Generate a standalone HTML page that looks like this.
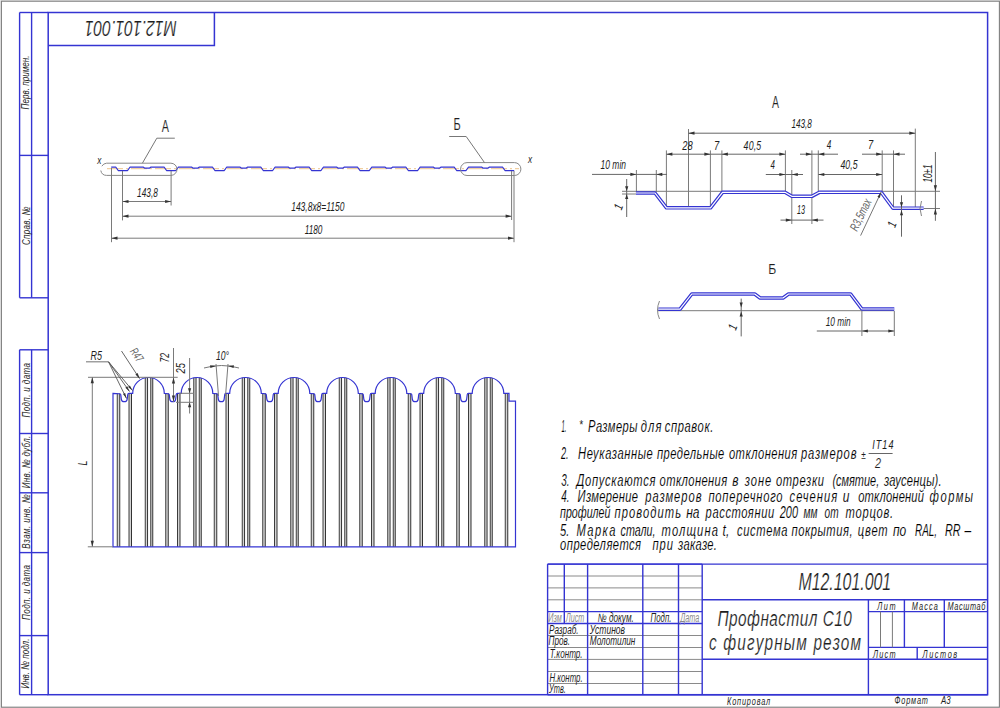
<!DOCTYPE html>
<html><head><meta charset="utf-8"><style>
html,body{margin:0;padding:0;background:#fff;width:1000px;height:708px;overflow:hidden}
svg{display:block}
text{font-family:"Liberation Sans",sans-serif}
</style></head><body>
<svg width="1000" height="708" viewBox="0 0 1000 708">
<rect x="0" y="0" width="1000" height="708" fill="#ececec"/>
<rect x="1.4" y="1.2" width="998.0" height="706.0" fill="#ffffff" stroke="#7e7e7e" stroke-width="1.1"/>
<rect x="48.2" y="12.5" width="939.4" height="682.2" fill="none" stroke="#3434d2" stroke-width="1.5"/>
<polyline points="48.2,45.5 214.4,45.5 214.4,12.5" fill="none" stroke="#3434d2" stroke-width="1.5"/>
<text x="130.70" y="20.50" font-size="22.5" font-style="italic" text-anchor="middle" fill="#1e1e1e" textLength="92.00" lengthAdjust="spacingAndGlyphs" transform="rotate(180 130.70 20.50)" stroke="#fff" stroke-width="0.2" >M12.101.001</text>
<line x1="19.60" y1="12.50" x2="19.60" y2="297.80" stroke="#3434d2" stroke-width="1.4" />
<line x1="31.60" y1="12.50" x2="31.60" y2="297.80" stroke="#3434d2" stroke-width="1.4" />
<line x1="19.60" y1="12.50" x2="48.20" y2="12.50" stroke="#3434d2" stroke-width="1.4" />
<line x1="19.60" y1="155.40" x2="48.20" y2="155.40" stroke="#3434d2" stroke-width="1.4" />
<line x1="19.60" y1="297.80" x2="48.20" y2="297.80" stroke="#3434d2" stroke-width="1.4" />
<line x1="19.60" y1="349.80" x2="19.60" y2="694.70" stroke="#3434d2" stroke-width="1.4" />
<line x1="31.60" y1="349.80" x2="31.60" y2="694.70" stroke="#3434d2" stroke-width="1.4" />
<line x1="19.60" y1="349.80" x2="48.20" y2="349.80" stroke="#3434d2" stroke-width="1.4" />
<line x1="19.60" y1="433.50" x2="48.20" y2="433.50" stroke="#3434d2" stroke-width="1.4" />
<line x1="19.60" y1="492.80" x2="48.20" y2="492.80" stroke="#3434d2" stroke-width="1.4" />
<line x1="19.60" y1="552.60" x2="48.20" y2="552.60" stroke="#3434d2" stroke-width="1.4" />
<line x1="19.60" y1="635.60" x2="48.20" y2="635.60" stroke="#3434d2" stroke-width="1.4" />
<line x1="19.60" y1="694.70" x2="48.20" y2="694.70" stroke="#3434d2" stroke-width="1.4" />
<text x="29.50" y="82.40" font-size="11.5" font-style="italic" text-anchor="middle" fill="#1e1e1e" textLength="54.00" lengthAdjust="spacingAndGlyphs" transform="rotate(-90 29.50 82.40)" >Перв. примен.</text>
<text x="0" y="0" font-size="11.5" font-style="italic" text-anchor="middle" fill="#1e1e1e" textLength="55.00" lengthAdjust="spacing" transform="translate(29.50 225.80) rotate(-90) scale(0.7 1)" >Справ. №</text>
<text x="0" y="0" font-size="11.5" font-style="italic" text-anchor="middle" fill="#1e1e1e" textLength="77.86" lengthAdjust="spacing" transform="translate(29.50 390.30) rotate(-90) scale(0.7 1)" >Подп. и дата</text>
<text x="0" y="0" font-size="11.5" font-style="italic" text-anchor="middle" fill="#1e1e1e" textLength="75.00" lengthAdjust="spacing" transform="translate(29.50 462.00) rotate(-90) scale(0.7 1)" >Инв. № дубл.</text>
<text x="0" y="0" font-size="11.5" font-style="italic" text-anchor="middle" fill="#1e1e1e" textLength="77.71" lengthAdjust="spacing" transform="translate(29.50 521.50) rotate(-90) scale(0.7 1)" >Взам. инв. №</text>
<text x="0" y="0" font-size="11.5" font-style="italic" text-anchor="middle" fill="#1e1e1e" textLength="78.57" lengthAdjust="spacing" transform="translate(29.50 592.50) rotate(-90) scale(0.7 1)" >Подп. и дата</text>
<text x="29.50" y="663.60" font-size="11.5" font-style="italic" text-anchor="middle" fill="#1e1e1e" textLength="50.00" lengthAdjust="spacingAndGlyphs" transform="rotate(-90 29.50 663.60)" >Инв. № подл.</text>
<line x1="547.60" y1="564.10" x2="702.20" y2="564.10" stroke="#3434d2" stroke-width="1.4" />
<line x1="547.60" y1="576.00" x2="702.20" y2="576.00" stroke="#8a8a8a" stroke-width="1" />
<line x1="547.60" y1="587.90" x2="702.20" y2="587.90" stroke="#8a8a8a" stroke-width="1" />
<line x1="547.60" y1="599.80" x2="702.20" y2="599.80" stroke="#8a8a8a" stroke-width="1" />
<line x1="547.60" y1="611.60" x2="702.20" y2="611.60" stroke="#3434d2" stroke-width="1.4" />
<line x1="547.60" y1="623.50" x2="702.20" y2="623.50" stroke="#3434d2" stroke-width="1.4" />
<line x1="547.60" y1="635.50" x2="702.20" y2="635.50" stroke="#8a8a8a" stroke-width="1" />
<line x1="547.60" y1="647.50" x2="702.20" y2="647.50" stroke="#8a8a8a" stroke-width="1" />
<line x1="547.60" y1="659.40" x2="702.20" y2="659.40" stroke="#8a8a8a" stroke-width="1" />
<line x1="547.60" y1="671.50" x2="702.20" y2="671.50" stroke="#8a8a8a" stroke-width="1" />
<line x1="547.60" y1="683.50" x2="702.20" y2="683.50" stroke="#8a8a8a" stroke-width="1" />
<line x1="547.60" y1="694.70" x2="987.60" y2="694.70" stroke="#3434d2" stroke-width="1.5" />
<line x1="547.60" y1="564.10" x2="987.60" y2="564.10" stroke="#3434d2" stroke-width="1.4" />
<line x1="547.60" y1="564.10" x2="547.60" y2="694.70" stroke="#3434d2" stroke-width="1.4" />
<line x1="587.60" y1="564.10" x2="587.60" y2="694.70" stroke="#3434d2" stroke-width="1.4" />
<line x1="642.80" y1="564.10" x2="642.80" y2="694.70" stroke="#3434d2" stroke-width="1.4" />
<line x1="678.50" y1="564.10" x2="678.50" y2="694.70" stroke="#3434d2" stroke-width="1.4" />
<line x1="702.20" y1="564.10" x2="702.20" y2="694.70" stroke="#3434d2" stroke-width="1.4" />
<line x1="564.30" y1="564.10" x2="564.30" y2="623.50" stroke="#3434d2" stroke-width="1.4" />
<line x1="702.20" y1="599.80" x2="987.60" y2="599.80" stroke="#3434d2" stroke-width="1.4" />
<line x1="702.20" y1="659.30" x2="987.60" y2="659.30" stroke="#3434d2" stroke-width="1.4" />
<line x1="868.40" y1="599.80" x2="868.40" y2="694.70" stroke="#3434d2" stroke-width="1.4" />
<line x1="868.40" y1="611.60" x2="987.60" y2="611.60" stroke="#3434d2" stroke-width="1.4" />
<line x1="868.40" y1="647.40" x2="987.60" y2="647.40" stroke="#3434d2" stroke-width="1.4" />
<line x1="880.50" y1="611.60" x2="880.50" y2="647.40" stroke="#7a7a7a" stroke-width="1" />
<line x1="892.40" y1="611.60" x2="892.40" y2="647.40" stroke="#7a7a7a" stroke-width="1" />
<line x1="904.40" y1="599.80" x2="904.40" y2="647.40" stroke="#3434d2" stroke-width="1.4" />
<line x1="944.30" y1="599.80" x2="944.30" y2="647.40" stroke="#3434d2" stroke-width="1.4" />
<line x1="917.20" y1="647.40" x2="917.20" y2="659.30" stroke="#3434d2" stroke-width="1.4" />
<text x="548.20" y="621.60" font-size="12" font-style="italic" text-anchor="start" fill="#8a8a8a" textLength="13.60" lengthAdjust="spacingAndGlyphs" >Изм</text>
<text x="565.80" y="621.60" font-size="12" font-style="italic" text-anchor="start" fill="#8a8a8a" textLength="18.40" lengthAdjust="spacingAndGlyphs" >Лист</text>
<text x="597.80" y="621.60" font-size="12" font-style="italic" text-anchor="start" fill="#1e1e1e" textLength="36.00" lengthAdjust="spacingAndGlyphs" >№ докум.</text>
<text x="650.60" y="621.60" font-size="12" font-style="italic" text-anchor="start" fill="#1e1e1e" textLength="20.80" lengthAdjust="spacingAndGlyphs" >Подп.</text>
<text x="680.20" y="621.60" font-size="12" font-style="italic" text-anchor="start" fill="#8a8a8a" textLength="19.20" lengthAdjust="spacingAndGlyphs" >Дата</text>
<text x="549.00" y="633.60" font-size="12" font-style="italic" text-anchor="start" fill="#1e1e1e" textLength="29.60" lengthAdjust="spacingAndGlyphs" >Разраб.</text>
<text x="589.80" y="633.60" font-size="12" font-style="italic" text-anchor="start" fill="#1e1e1e" textLength="35.20" lengthAdjust="spacingAndGlyphs" >Устинов</text>
<text x="548.50" y="645.00" font-size="12" font-style="italic" text-anchor="start" fill="#1e1e1e" textLength="21.50" lengthAdjust="spacingAndGlyphs" >Пров.</text>
<text x="589.80" y="645.00" font-size="12" font-style="italic" text-anchor="start" fill="#1e1e1e" textLength="45.60" lengthAdjust="spacingAndGlyphs" >Молотилин</text>
<text x="549.80" y="658.40" font-size="12" font-style="italic" text-anchor="start" fill="#1e1e1e" textLength="32.80" lengthAdjust="spacingAndGlyphs" >Т.контр.</text>
<text x="549.50" y="681.60" font-size="12" font-style="italic" text-anchor="start" fill="#1e1e1e" textLength="33.10" lengthAdjust="spacingAndGlyphs" >Н.контр.</text>
<text x="549.00" y="693.00" font-size="12" font-style="italic" text-anchor="start" fill="#1e1e1e" textLength="16.80" lengthAdjust="spacingAndGlyphs" >Утв.</text>
<text x="0" y="0" font-size="10.5" font-style="italic" text-anchor="start" fill="#1e1e1e" textLength="26.14" lengthAdjust="spacing" transform="translate(877.30 609.80) scale(0.7 1)" >Лит</text>
<text x="0" y="0" font-size="10.5" font-style="italic" text-anchor="start" fill="#1e1e1e" textLength="37.14" lengthAdjust="spacing" transform="translate(911.80 609.80) scale(0.7 1)" >Масса</text>
<text x="0" y="0" font-size="10.5" font-style="italic" text-anchor="start" fill="#1e1e1e" textLength="54.00" lengthAdjust="spacing" transform="translate(947.50 609.80) scale(0.7 1)" >Масштаб</text>
<text x="0" y="0" font-size="10.5" font-style="italic" text-anchor="start" fill="#1e1e1e" textLength="32.29" lengthAdjust="spacing" transform="translate(873.00 657.60) scale(0.7 1)" >Лист</text>
<text x="0" y="0" font-size="10.5" font-style="italic" text-anchor="start" fill="#1e1e1e" textLength="49.43" lengthAdjust="spacing" transform="translate(922.60 657.60) scale(0.7 1)" >Листов</text>
<text x="798.40" y="590.40" font-size="23" font-style="italic" text-anchor="start" fill="#1e1e1e" textLength="92.80" lengthAdjust="spacingAndGlyphs" stroke="#fff" stroke-width="0.2" >M12.101.001</text>
<text x="0" y="0" font-size="22" font-style="italic" text-anchor="start" fill="#1e1e1e" textLength="192.14" lengthAdjust="spacing" transform="translate(717.40 626.10) scale(0.7 1)" stroke="#fff" stroke-width="0.2" >Профнастил С10</text>
<text x="0" y="0" font-size="22" font-style="italic" text-anchor="start" fill="#1e1e1e" textLength="217.00" lengthAdjust="spacing" transform="translate(709.10 649.50) scale(0.7 1)" stroke="#fff" stroke-width="0.2" >с фигурным резом</text>
<text x="0" y="0" font-size="10.5" font-style="italic" text-anchor="start" fill="#1e1e1e" textLength="61.71" lengthAdjust="spacing" transform="translate(727.00 704.60) scale(0.7 1)" >Копировал</text>
<text x="0" y="0" font-size="10.5" font-style="italic" text-anchor="start" fill="#1e1e1e" textLength="47.86" lengthAdjust="spacing" transform="translate(894.50 704.40) scale(0.7 1)" >Формат</text>
<text x="0" y="0" font-size="10.5" font-style="italic" text-anchor="start" fill="#1e1e1e" transform="translate(941.00 704.40) scale(0.750 1)" >А3</text>
<text x="0" y="0" font-size="16" font-style="italic" text-anchor="start" fill="#000" transform="translate(561.60 432.30) scale(0.367 1)" stroke="#fff" stroke-width="0.12" >1.</text>
<text x="0" y="0" font-size="16" font-style="italic" text-anchor="start" fill="#000" textLength="70.71" lengthAdjust="spacing" transform="translate(588.00 432.30) scale(0.7 1)" stroke="#fff" stroke-width="0.12" >Размеры</text>
<text x="0" y="0" font-size="16" font-style="italic" text-anchor="start" fill="#000" textLength="29.43" lengthAdjust="spacing" transform="translate(640.80 432.30) scale(0.7 1)" stroke="#fff" stroke-width="0.12" >для</text>
<text x="0" y="0" font-size="16" font-style="italic" text-anchor="start" fill="#000" textLength="69.57" lengthAdjust="spacing" transform="translate(664.70 432.30) scale(0.7 1)" stroke="#fff" stroke-width="0.12" >справок.</text>
<text x="0" y="0" font-size="13" font-style="italic" text-anchor="start" fill="#1e1e1e" transform="translate(578.90 429.00) scale(0.750 1)" >*</text>
<text x="0" y="0" font-size="16" font-style="italic" text-anchor="start" fill="#000" transform="translate(561.00 458.80) scale(0.570 1)" stroke="#fff" stroke-width="0.12" >2.</text>
<text x="0" y="0" font-size="16" font-style="italic" text-anchor="start" fill="#000" textLength="106.86" lengthAdjust="spacing" transform="translate(578.00 458.80) scale(0.7 1)" stroke="#fff" stroke-width="0.12" >Неуказанные</text>
<text x="0" y="0" font-size="16" font-style="italic" text-anchor="start" fill="#000" textLength="96.14" lengthAdjust="spacing" transform="translate(657.00 458.80) scale(0.7 1)" stroke="#fff" stroke-width="0.12" >предельные</text>
<text x="0" y="0" font-size="16" font-style="italic" text-anchor="start" fill="#000" textLength="97.71" lengthAdjust="spacing" transform="translate(728.90 458.80) scale(0.7 1)" stroke="#fff" stroke-width="0.12" >отклонения</text>
<text x="0" y="0" font-size="16" font-style="italic" text-anchor="start" fill="#000" textLength="79.29" lengthAdjust="spacing" transform="translate(801.00 458.80) scale(0.7 1)" stroke="#fff" stroke-width="0.12" >размеров</text>
<text x="0" y="0" font-size="11" font-style="italic" text-anchor="start" fill="#1e1e1e" transform="translate(861.20 458.80) scale(0.750 1)" >±</text>
<text x="0" y="0" font-size="13" font-style="italic" text-anchor="start" fill="#1e1e1e" textLength="30.29" lengthAdjust="spacing" transform="translate(872.30 448.90) scale(0.7 1)" >IT14</text>
<line x1="868.60" y1="453.50" x2="892.60" y2="453.50" stroke="#666" stroke-width="1" />
<text x="0" y="0" font-size="14.5" font-style="italic" text-anchor="start" fill="#1e1e1e" transform="translate(875.00 468.30) scale(0.750 1)" stroke="#fff" stroke-width="0.12" >2</text>
<text x="0" y="0" font-size="16" font-style="italic" text-anchor="start" fill="#000" transform="translate(561.20 485.50) scale(0.615 1)" stroke="#fff" stroke-width="0.12" >3.</text>
<text x="0" y="0" font-size="16" font-style="italic" text-anchor="start" fill="#000" textLength="112.86" lengthAdjust="spacing" transform="translate(576.50 485.50) scale(0.7 1)" stroke="#fff" stroke-width="0.12" >Допускаются</text>
<text x="0" y="0" font-size="16" font-style="italic" text-anchor="start" fill="#000" textLength="96.57" lengthAdjust="spacing" transform="translate(659.60 485.50) scale(0.7 1)" stroke="#fff" stroke-width="0.12" >отклонения</text>
<text x="0" y="0" font-size="16" font-style="italic" text-anchor="start" fill="#000" transform="translate(732.30 485.50) scale(0.750 1)" stroke="#fff" stroke-width="0.12" >в</text>
<text x="0" y="0" font-size="16" font-style="italic" text-anchor="start" fill="#000" textLength="37.71" lengthAdjust="spacing" transform="translate(744.80 485.50) scale(0.7 1)" stroke="#fff" stroke-width="0.12" >зоне</text>
<text x="0" y="0" font-size="16" font-style="italic" text-anchor="start" fill="#000" textLength="68.57" lengthAdjust="spacing" transform="translate(776.00 485.50) scale(0.7 1)" stroke="#fff" stroke-width="0.12" >отрезки</text>
<text x="832.40" y="485.50" font-size="16" font-style="italic" text-anchor="start" fill="#000" textLength="46.80" lengthAdjust="spacingAndGlyphs" stroke="#fff" stroke-width="0.12" >(смятие,</text>
<text x="0" y="0" font-size="16" font-style="italic" text-anchor="start" fill="#000" textLength="82.29" lengthAdjust="spacing" transform="translate(884.00 485.50) scale(0.7 1)" stroke="#fff" stroke-width="0.12" >заусенцы).</text>
<text x="0" y="0" font-size="16" font-style="italic" text-anchor="start" fill="#000" transform="translate(561.20 501.90) scale(0.615 1)" stroke="#fff" stroke-width="0.12" >4.</text>
<text x="0" y="0" font-size="16" font-style="italic" text-anchor="start" fill="#000" textLength="86.29" lengthAdjust="spacing" transform="translate(577.60 501.90) scale(0.7 1)" stroke="#fff" stroke-width="0.12" >Измерение</text>
<text x="0" y="0" font-size="16" font-style="italic" text-anchor="start" fill="#000" textLength="80.57" lengthAdjust="spacing" transform="translate(645.20 501.90) scale(0.7 1)" stroke="#fff" stroke-width="0.12" >размеров</text>
<text x="0" y="0" font-size="16" font-style="italic" text-anchor="start" fill="#000" textLength="106.00" lengthAdjust="spacing" transform="translate(708.40 501.90) scale(0.7 1)" stroke="#fff" stroke-width="0.12" >поперечного</text>
<text x="0" y="0" font-size="16" font-style="italic" text-anchor="start" fill="#000" textLength="68.00" lengthAdjust="spacing" transform="translate(789.60 501.90) scale(0.7 1)" stroke="#fff" stroke-width="0.12" >сечения</text>
<text x="0" y="0" font-size="16" font-style="italic" text-anchor="start" fill="#000" transform="translate(842.80 501.90) scale(0.750 1)" stroke="#fff" stroke-width="0.12" >и</text>
<text x="0" y="0" font-size="16" font-style="italic" text-anchor="start" fill="#000" textLength="94.00" lengthAdjust="spacing" transform="translate(858.20 501.90) scale(0.7 1)" stroke="#fff" stroke-width="0.12" >отклонений</text>
<text x="0" y="0" font-size="16" font-style="italic" text-anchor="start" fill="#000" textLength="62.00" lengthAdjust="spacing" transform="translate(929.60 501.90) scale(0.7 1)" stroke="#fff" stroke-width="0.12" >формы</text>
<text x="560.10" y="518.30" font-size="16" font-style="italic" text-anchor="start" fill="#000" textLength="50.30" lengthAdjust="spacingAndGlyphs" stroke="#fff" stroke-width="0.12" >профилей</text>
<text x="0" y="0" font-size="16" font-style="italic" text-anchor="start" fill="#000" textLength="95.14" lengthAdjust="spacing" transform="translate(614.50 518.30) scale(0.7 1)" stroke="#fff" stroke-width="0.12" >проводить</text>
<text x="0" y="0" font-size="16" font-style="italic" text-anchor="start" fill="#000" transform="translate(686.20 518.30) scale(0.750 1)" stroke="#fff" stroke-width="0.12" >на</text>
<text x="0" y="0" font-size="16" font-style="italic" text-anchor="start" fill="#000" textLength="98.00" lengthAdjust="spacing" transform="translate(705.60 518.30) scale(0.7 1)" stroke="#fff" stroke-width="0.12" >расстоянии</text>
<text x="779.80" y="518.30" font-size="16" font-style="italic" text-anchor="start" fill="#000" textLength="18.20" lengthAdjust="spacingAndGlyphs" stroke="#fff" stroke-width="0.12" >200</text>
<text x="0" y="0" font-size="16" font-style="italic" text-anchor="start" fill="#000" transform="translate(803.60 518.30) scale(0.638 1)" stroke="#fff" stroke-width="0.12" >мм</text>
<text x="0" y="0" font-size="16" font-style="italic" text-anchor="start" fill="#000" transform="translate(824.60 518.30) scale(0.630 1)" stroke="#fff" stroke-width="0.12" >от</text>
<text x="0" y="0" font-size="16" font-style="italic" text-anchor="start" fill="#000" textLength="68.00" lengthAdjust="spacing" transform="translate(845.60 518.30) scale(0.7 1)" stroke="#fff" stroke-width="0.12" >торцов.</text>
<text x="0" y="0" font-size="16" font-style="italic" text-anchor="start" fill="#000" transform="translate(560.10 535.80) scale(0.697 1)" stroke="#fff" stroke-width="0.12" >5.</text>
<text x="0" y="0" font-size="16" font-style="italic" text-anchor="start" fill="#000" textLength="55.71" lengthAdjust="spacing" transform="translate(576.50 535.80) scale(0.7 1)" stroke="#fff" stroke-width="0.12" >Марка</text>
<text x="620.60" y="535.80" font-size="16" font-style="italic" text-anchor="start" fill="#000" textLength="34.90" lengthAdjust="spacingAndGlyphs" stroke="#fff" stroke-width="0.12" >стали,</text>
<text x="0" y="0" font-size="16" font-style="italic" text-anchor="start" fill="#000" textLength="80.57" lengthAdjust="spacing" transform="translate(661.60 535.80) scale(0.7 1)" stroke="#fff" stroke-width="0.12" >толщина</text>
<text x="0" y="0" font-size="16" font-style="italic" text-anchor="start" fill="#000" transform="translate(722.60 535.80) scale(0.750 1)" stroke="#fff" stroke-width="0.12" >t,</text>
<text x="0" y="0" font-size="16" font-style="italic" text-anchor="start" fill="#000" textLength="72.43" lengthAdjust="spacing" transform="translate(736.90 535.80) scale(0.7 1)" stroke="#fff" stroke-width="0.12" >система</text>
<text x="0" y="0" font-size="16" font-style="italic" text-anchor="start" fill="#000" textLength="87.29" lengthAdjust="spacing" transform="translate(791.50 535.80) scale(0.7 1)" stroke="#fff" stroke-width="0.12" >покрытия,</text>
<text x="0" y="0" font-size="16" font-style="italic" text-anchor="start" fill="#000" textLength="42.71" lengthAdjust="spacing" transform="translate(857.80 535.80) scale(0.7 1)" stroke="#fff" stroke-width="0.12" >цвет</text>
<text x="0" y="0" font-size="16" font-style="italic" text-anchor="start" fill="#000" transform="translate(892.90 535.80) scale(0.750 1)" stroke="#fff" stroke-width="0.12" >по</text>
<text x="915.00" y="535.80" font-size="16" font-style="italic" text-anchor="start" fill="#000" textLength="22.10" lengthAdjust="spacingAndGlyphs" stroke="#fff" stroke-width="0.12" >RAL,</text>
<text x="0" y="0" font-size="16" font-style="italic" text-anchor="start" fill="#000" transform="translate(944.90 535.80) scale(0.675 1)" stroke="#fff" stroke-width="0.12" >RR</text>
<text x="0" y="0" font-size="16" font-style="italic" text-anchor="start" fill="#000" transform="translate(964.40 535.80) scale(0.750 1)" stroke="#fff" stroke-width="0.12" >–</text>
<text x="0" y="0" font-size="16" font-style="italic" text-anchor="start" fill="#000" textLength="115.71" lengthAdjust="spacing" transform="translate(560.10 550.10) scale(0.7 1)" stroke="#fff" stroke-width="0.12" >определяется</text>
<text x="0" y="0" font-size="16" font-style="italic" text-anchor="start" fill="#000" textLength="29.29" lengthAdjust="spacing" transform="translate(652.40 550.10) scale(0.7 1)" stroke="#fff" stroke-width="0.12" >при</text>
<text x="0" y="0" font-size="16" font-style="italic" text-anchor="start" fill="#000" textLength="55.71" lengthAdjust="spacing" transform="translate(678.00 550.10) scale(0.7 1)" stroke="#fff" stroke-width="0.12" >заказе.</text>
<line x1="107" y1="168.7" x2="519" y2="168.7" stroke="#eec48c" stroke-width="1" stroke-dasharray="16 3 2 3"/>
<polyline points="111.20,167.00 115.70,167.00 118.20,170.50 127.60,170.50 130.10,167.00 143.08,167.00 144.48,168.10 149.68,168.10 151.08,167.00 164.05,167.00 166.55,170.50 175.95,170.50 178.45,167.00 191.43,167.00 192.83,168.10 198.03,168.10 199.43,167.00 212.40,167.00 214.90,170.50 224.30,170.50 226.80,167.00 239.78,167.00 241.18,168.10 246.38,168.10 247.78,167.00 260.75,167.00 263.25,170.50 272.65,170.50 275.15,167.00 288.13,167.00 289.53,168.10 294.73,168.10 296.13,167.00 309.10,167.00 311.60,170.50 321.00,170.50 323.50,167.00 336.48,167.00 337.88,168.10 343.08,168.10 344.48,167.00 357.45,167.00 359.95,170.50 369.35,170.50 371.85,167.00 384.82,167.00 386.22,168.10 391.43,168.10 392.82,167.00 405.80,167.00 408.30,170.50 417.70,170.50 420.20,167.00 433.18,167.00 434.57,168.10 439.78,168.10 441.18,167.00 454.15,167.00 456.65,170.50 466.05,170.50 468.55,167.00 481.53,167.00 482.93,168.10 488.13,168.10 489.53,167.00 502.50,167.00 505.00,170.50 514.20,170.50" fill="none" stroke="#3434d2" stroke-width="1.25" stroke-linejoin="round" />
<path d="M101.8,166.2 A6,6 0 0 1 106.6,163.2 L170.9,163.2 A6.1,6.1 0 0 1 170.9,175.4 L106.6,175.4 A6,6 0 0 1 100.8,170.5" fill="none" stroke="#888" stroke-width="1" />
<rect x="460.6" y="162.6" width="60.3" height="12.9" rx="6.4" ry="6.4" fill="none" stroke="#888" stroke-width="1"/>
<polyline points="142.40,163.20 156.80,138.20 174.80,138.20" fill="none" stroke="#777" stroke-width="1" stroke-linejoin="round" />
<polyline points="484.50,162.60 466.20,136.50 449.20,136.50" fill="none" stroke="#777" stroke-width="1" stroke-linejoin="round" />
<text x="165.30" y="131.60" font-size="16.5" font-style="normal" text-anchor="middle" fill="#1e1e1e" textLength="7.20" lengthAdjust="spacingAndGlyphs" stroke="#fff" stroke-width="0.12" >A</text>
<text x="457.00" y="130.20" font-size="16.5" font-style="normal" text-anchor="middle" fill="#1e1e1e" textLength="7.20" lengthAdjust="spacingAndGlyphs" stroke="#fff" stroke-width="0.12" >Б</text>
<text x="0" y="0" font-size="11" font-style="italic" text-anchor="start" fill="#1e1e1e" transform="translate(97.30 164.40) scale(0.750 1)" >x</text>
<text x="0" y="0" font-size="11" font-style="italic" text-anchor="start" fill="#1e1e1e" transform="translate(528.00 163.00) scale(0.750 1)" >x</text>
<line x1="111.50" y1="168.00" x2="111.50" y2="242.20" stroke="#7a7a7a" stroke-width="1" />
<line x1="122.50" y1="171.00" x2="122.50" y2="220.40" stroke="#7a7a7a" stroke-width="1" />
<line x1="171.10" y1="171.00" x2="171.10" y2="205.50" stroke="#7a7a7a" stroke-width="1" />
<line x1="511.60" y1="171.00" x2="511.60" y2="220.00" stroke="#7a7a7a" stroke-width="1" />
<line x1="514.00" y1="171.00" x2="514.00" y2="242.20" stroke="#7a7a7a" stroke-width="1" />
<line x1="122.50" y1="201.50" x2="171.10" y2="201.50" stroke="#7a7a7a" stroke-width="1" />
<polygon points="122.50,201.50 128.50,199.90 128.50,203.10" fill="#333"/>
<polygon points="171.10,201.50 165.10,203.10 165.10,199.90" fill="#333"/>
<line x1="122.50" y1="216.20" x2="511.60" y2="216.20" stroke="#7a7a7a" stroke-width="1" />
<polygon points="122.50,216.20 128.50,214.60 128.50,217.80" fill="#333"/>
<polygon points="511.60,216.20 505.60,217.80 505.60,214.60" fill="#333"/>
<line x1="111.50" y1="238.20" x2="514.00" y2="238.20" stroke="#7a7a7a" stroke-width="1" />
<polygon points="111.50,238.20 117.50,236.60 117.50,239.80" fill="#333"/>
<polygon points="514.00,238.20 508.00,239.80 508.00,236.60" fill="#333"/>
<text x="137.10" y="197.00" font-size="12.5" font-style="italic" text-anchor="start" fill="#1e1e1e" textLength="20.70" lengthAdjust="spacingAndGlyphs" >143,8</text>
<text x="291.20" y="211.30" font-size="12.5" font-style="italic" text-anchor="start" fill="#1e1e1e" textLength="53.30" lengthAdjust="spacingAndGlyphs" >143,8x8=1150</text>
<text x="304.70" y="233.70" font-size="12.5" font-style="italic" text-anchor="start" fill="#1e1e1e" textLength="17.70" lengthAdjust="spacingAndGlyphs" >1180</text>
<rect x="117.25" y="393.30" width="2.50" height="153.50" fill="#d4d4d4"/>
<line x1="117.25" y1="393.30" x2="117.25" y2="546.80" stroke="#3c3c3c" stroke-width="1" />
<line x1="119.75" y1="393.30" x2="119.75" y2="546.80" stroke="#333333" stroke-width="1" />
<rect x="129.00" y="393.30" width="2.50" height="153.50" fill="#d4d4d4"/>
<line x1="129.00" y1="393.30" x2="129.00" y2="546.80" stroke="#3c3c3c" stroke-width="1" />
<line x1="131.50" y1="393.30" x2="131.50" y2="546.80" stroke="#333333" stroke-width="1" />
<rect x="145.25" y="377.53" width="2.30" height="169.27" fill="#d4d4d4"/>
<line x1="145.25" y1="377.84" x2="145.25" y2="546.80" stroke="#3c3c3c" stroke-width="1" />
<line x1="147.55" y1="377.53" x2="147.55" y2="546.80" stroke="#333333" stroke-width="1" />
<rect x="150.75" y="377.66" width="2.00" height="169.14" fill="#d4d4d4"/>
<line x1="150.75" y1="377.66" x2="150.75" y2="546.80" stroke="#3c3c3c" stroke-width="1" />
<line x1="152.75" y1="378.08" x2="152.75" y2="546.80" stroke="#333333" stroke-width="1" />
<rect x="165.75" y="393.30" width="2.50" height="153.50" fill="#d4d4d4"/>
<line x1="165.75" y1="393.30" x2="165.75" y2="546.80" stroke="#3c3c3c" stroke-width="1" />
<line x1="168.25" y1="393.30" x2="168.25" y2="546.80" stroke="#333333" stroke-width="1" />
<rect x="177.50" y="393.30" width="2.50" height="153.50" fill="#d4d4d4"/>
<line x1="177.50" y1="393.30" x2="177.50" y2="546.80" stroke="#3c3c3c" stroke-width="1" />
<line x1="180.00" y1="393.30" x2="180.00" y2="546.80" stroke="#333333" stroke-width="1" />
<rect x="193.75" y="377.53" width="2.30" height="169.27" fill="#d4d4d4"/>
<line x1="193.75" y1="377.84" x2="193.75" y2="546.80" stroke="#3c3c3c" stroke-width="1" />
<line x1="196.05" y1="377.53" x2="196.05" y2="546.80" stroke="#333333" stroke-width="1" />
<rect x="199.25" y="377.66" width="2.00" height="169.14" fill="#d4d4d4"/>
<line x1="199.25" y1="377.66" x2="199.25" y2="546.80" stroke="#3c3c3c" stroke-width="1" />
<line x1="201.25" y1="378.08" x2="201.25" y2="546.80" stroke="#333333" stroke-width="1" />
<rect x="214.25" y="393.30" width="2.50" height="153.50" fill="#d4d4d4"/>
<line x1="214.25" y1="393.30" x2="214.25" y2="546.80" stroke="#3c3c3c" stroke-width="1" />
<line x1="216.75" y1="393.30" x2="216.75" y2="546.80" stroke="#333333" stroke-width="1" />
<rect x="226.00" y="393.30" width="2.50" height="153.50" fill="#d4d4d4"/>
<line x1="226.00" y1="393.30" x2="226.00" y2="546.80" stroke="#3c3c3c" stroke-width="1" />
<line x1="228.50" y1="393.30" x2="228.50" y2="546.80" stroke="#333333" stroke-width="1" />
<rect x="242.25" y="377.53" width="2.30" height="169.27" fill="#d4d4d4"/>
<line x1="242.25" y1="377.84" x2="242.25" y2="546.80" stroke="#3c3c3c" stroke-width="1" />
<line x1="244.55" y1="377.53" x2="244.55" y2="546.80" stroke="#333333" stroke-width="1" />
<rect x="247.75" y="377.66" width="2.00" height="169.14" fill="#d4d4d4"/>
<line x1="247.75" y1="377.66" x2="247.75" y2="546.80" stroke="#3c3c3c" stroke-width="1" />
<line x1="249.75" y1="378.08" x2="249.75" y2="546.80" stroke="#333333" stroke-width="1" />
<rect x="262.75" y="393.30" width="2.50" height="153.50" fill="#d4d4d4"/>
<line x1="262.75" y1="393.30" x2="262.75" y2="546.80" stroke="#3c3c3c" stroke-width="1" />
<line x1="265.25" y1="393.30" x2="265.25" y2="546.80" stroke="#333333" stroke-width="1" />
<rect x="274.50" y="393.30" width="2.50" height="153.50" fill="#d4d4d4"/>
<line x1="274.50" y1="393.30" x2="274.50" y2="546.80" stroke="#3c3c3c" stroke-width="1" />
<line x1="277.00" y1="393.30" x2="277.00" y2="546.80" stroke="#333333" stroke-width="1" />
<rect x="290.75" y="377.53" width="2.30" height="169.27" fill="#d4d4d4"/>
<line x1="290.75" y1="377.84" x2="290.75" y2="546.80" stroke="#3c3c3c" stroke-width="1" />
<line x1="293.05" y1="377.53" x2="293.05" y2="546.80" stroke="#333333" stroke-width="1" />
<rect x="296.25" y="377.66" width="2.00" height="169.14" fill="#d4d4d4"/>
<line x1="296.25" y1="377.66" x2="296.25" y2="546.80" stroke="#3c3c3c" stroke-width="1" />
<line x1="298.25" y1="378.08" x2="298.25" y2="546.80" stroke="#333333" stroke-width="1" />
<rect x="311.25" y="393.30" width="2.50" height="153.50" fill="#d4d4d4"/>
<line x1="311.25" y1="393.30" x2="311.25" y2="546.80" stroke="#3c3c3c" stroke-width="1" />
<line x1="313.75" y1="393.30" x2="313.75" y2="546.80" stroke="#333333" stroke-width="1" />
<rect x="323.00" y="393.30" width="2.50" height="153.50" fill="#d4d4d4"/>
<line x1="323.00" y1="393.30" x2="323.00" y2="546.80" stroke="#3c3c3c" stroke-width="1" />
<line x1="325.50" y1="393.30" x2="325.50" y2="546.80" stroke="#333333" stroke-width="1" />
<rect x="339.25" y="377.53" width="2.30" height="169.27" fill="#d4d4d4"/>
<line x1="339.25" y1="377.84" x2="339.25" y2="546.80" stroke="#3c3c3c" stroke-width="1" />
<line x1="341.55" y1="377.53" x2="341.55" y2="546.80" stroke="#333333" stroke-width="1" />
<rect x="344.75" y="377.66" width="2.00" height="169.14" fill="#d4d4d4"/>
<line x1="344.75" y1="377.66" x2="344.75" y2="546.80" stroke="#3c3c3c" stroke-width="1" />
<line x1="346.75" y1="378.08" x2="346.75" y2="546.80" stroke="#333333" stroke-width="1" />
<rect x="359.75" y="393.30" width="2.50" height="153.50" fill="#d4d4d4"/>
<line x1="359.75" y1="393.30" x2="359.75" y2="546.80" stroke="#3c3c3c" stroke-width="1" />
<line x1="362.25" y1="393.30" x2="362.25" y2="546.80" stroke="#333333" stroke-width="1" />
<rect x="371.50" y="393.30" width="2.50" height="153.50" fill="#d4d4d4"/>
<line x1="371.50" y1="393.30" x2="371.50" y2="546.80" stroke="#3c3c3c" stroke-width="1" />
<line x1="374.00" y1="393.30" x2="374.00" y2="546.80" stroke="#333333" stroke-width="1" />
<rect x="387.75" y="377.53" width="2.30" height="169.27" fill="#d4d4d4"/>
<line x1="387.75" y1="377.84" x2="387.75" y2="546.80" stroke="#3c3c3c" stroke-width="1" />
<line x1="390.05" y1="377.53" x2="390.05" y2="546.80" stroke="#333333" stroke-width="1" />
<rect x="393.25" y="377.66" width="2.00" height="169.14" fill="#d4d4d4"/>
<line x1="393.25" y1="377.66" x2="393.25" y2="546.80" stroke="#3c3c3c" stroke-width="1" />
<line x1="395.25" y1="378.08" x2="395.25" y2="546.80" stroke="#333333" stroke-width="1" />
<rect x="408.25" y="393.30" width="2.50" height="153.50" fill="#d4d4d4"/>
<line x1="408.25" y1="393.30" x2="408.25" y2="546.80" stroke="#3c3c3c" stroke-width="1" />
<line x1="410.75" y1="393.30" x2="410.75" y2="546.80" stroke="#333333" stroke-width="1" />
<rect x="420.00" y="393.30" width="2.50" height="153.50" fill="#d4d4d4"/>
<line x1="420.00" y1="393.30" x2="420.00" y2="546.80" stroke="#3c3c3c" stroke-width="1" />
<line x1="422.50" y1="393.30" x2="422.50" y2="546.80" stroke="#333333" stroke-width="1" />
<rect x="436.25" y="377.53" width="2.30" height="169.27" fill="#d4d4d4"/>
<line x1="436.25" y1="377.84" x2="436.25" y2="546.80" stroke="#3c3c3c" stroke-width="1" />
<line x1="438.55" y1="377.53" x2="438.55" y2="546.80" stroke="#333333" stroke-width="1" />
<rect x="441.75" y="377.66" width="2.00" height="169.14" fill="#d4d4d4"/>
<line x1="441.75" y1="377.66" x2="441.75" y2="546.80" stroke="#3c3c3c" stroke-width="1" />
<line x1="443.75" y1="378.08" x2="443.75" y2="546.80" stroke="#333333" stroke-width="1" />
<rect x="456.75" y="393.30" width="2.50" height="153.50" fill="#d4d4d4"/>
<line x1="456.75" y1="393.30" x2="456.75" y2="546.80" stroke="#3c3c3c" stroke-width="1" />
<line x1="459.25" y1="393.30" x2="459.25" y2="546.80" stroke="#333333" stroke-width="1" />
<rect x="468.50" y="393.30" width="2.50" height="153.50" fill="#d4d4d4"/>
<line x1="468.50" y1="393.30" x2="468.50" y2="546.80" stroke="#3c3c3c" stroke-width="1" />
<line x1="471.00" y1="393.30" x2="471.00" y2="546.80" stroke="#333333" stroke-width="1" />
<rect x="484.75" y="377.53" width="2.30" height="169.27" fill="#d4d4d4"/>
<line x1="484.75" y1="377.84" x2="484.75" y2="546.80" stroke="#3c3c3c" stroke-width="1" />
<line x1="487.05" y1="377.53" x2="487.05" y2="546.80" stroke="#333333" stroke-width="1" />
<rect x="490.25" y="377.66" width="2.00" height="169.14" fill="#d4d4d4"/>
<line x1="490.25" y1="377.66" x2="490.25" y2="546.80" stroke="#3c3c3c" stroke-width="1" />
<line x1="492.25" y1="378.08" x2="492.25" y2="546.80" stroke="#333333" stroke-width="1" />
<rect x="505.25" y="393.30" width="2.50" height="153.50" fill="#d4d4d4"/>
<line x1="505.25" y1="393.30" x2="505.25" y2="546.80" stroke="#3c3c3c" stroke-width="1" />
<line x1="507.75" y1="393.30" x2="507.75" y2="546.80" stroke="#333333" stroke-width="1" />
<path d="M113.0,546.8 L113.0,393.3 Q120.65,393.3 120.75,394.50 L121.35,399.30 Q121.75,401.70 124.25,401.70 Q126.75,401.70 127.15,399.30 L127.75,394.50 Q127.85,393.3 128.85,393.3 L132.70,393.3 A15.8,15.8 0 0 1 164.30,393.3 Q169.15,393.3 169.25,394.50 L169.85,399.30 Q170.25,401.70 172.75,401.70 Q175.25,401.70 175.65,399.30 L176.25,394.50 Q176.35,393.3 177.35,393.3 L181.20,393.3 A15.8,15.8 0 0 1 212.80,393.3 Q217.65,393.3 217.75,394.50 L218.35,399.30 Q218.75,401.70 221.25,401.70 Q223.75,401.70 224.15,399.30 L224.75,394.50 Q224.85,393.3 225.85,393.3 L229.70,393.3 A15.8,15.8 0 0 1 261.30,393.3 Q266.15,393.3 266.25,394.50 L266.85,399.30 Q267.25,401.70 269.75,401.70 Q272.25,401.70 272.65,399.30 L273.25,394.50 Q273.35,393.3 274.35,393.3 L278.20,393.3 A15.8,15.8 0 0 1 309.80,393.3 Q314.65,393.3 314.75,394.50 L315.35,399.30 Q315.75,401.70 318.25,401.70 Q320.75,401.70 321.15,399.30 L321.75,394.50 Q321.85,393.3 322.85,393.3 L326.70,393.3 A15.8,15.8 0 0 1 358.30,393.3 Q363.15,393.3 363.25,394.50 L363.85,399.30 Q364.25,401.70 366.75,401.70 Q369.25,401.70 369.65,399.30 L370.25,394.50 Q370.35,393.3 371.35,393.3 L375.20,393.3 A15.8,15.8 0 0 1 406.80,393.3 Q411.65,393.3 411.75,394.50 L412.35,399.30 Q412.75,401.70 415.25,401.70 Q417.75,401.70 418.15,399.30 L418.75,394.50 Q418.85,393.3 419.85,393.3 L423.70,393.3 A15.8,15.8 0 0 1 455.30,393.3 Q460.15,393.3 460.25,394.50 L460.85,399.30 Q461.25,401.70 463.75,401.70 Q466.25,401.70 466.65,399.30 L467.25,394.50 Q467.35,393.3 468.35,393.3 L472.20,393.3 A15.8,15.8 0 0 1 503.80,393.3 L509.0,393.3 L509.0,401.2 L515.5,401.2 L515.5,546.8 Z" fill="none" stroke="#3434d2" stroke-width="1.2" />
<line x1="88.00" y1="377.30" x2="177.70" y2="377.30" stroke="#7a7a7a" stroke-width="1" />
<line x1="92.30" y1="377.30" x2="92.30" y2="546.80" stroke="#7a7a7a" stroke-width="1" />
<polygon points="92.30,377.30 93.90,383.30 90.70,383.30" fill="#333"/>
<polygon points="92.30,546.80 90.70,540.80 93.90,540.80" fill="#333"/>
<line x1="87.80" y1="546.80" x2="113.00" y2="546.80" stroke="#7a7a7a" stroke-width="1" />
<text x="0" y="0" font-size="12" font-style="italic" text-anchor="start" fill="#1e1e1e" transform="translate(86.50 465.50) rotate(-90) scale(0.750 1)" >L</text>
<line x1="173.50" y1="348.00" x2="173.50" y2="402.00" stroke="#7a7a7a" stroke-width="1" />
<polygon points="173.50,377.60 175.10,383.60 171.90,383.60" fill="#333"/>
<polygon points="173.50,401.40 171.90,395.40 175.10,395.40" fill="#333"/>
<text x="0" y="0" font-size="12.5" font-style="italic" text-anchor="start" fill="#1e1e1e" transform="translate(168.50 362.50) rotate(-90) scale(0.683 1)" >72</text>
<line x1="189.60" y1="358.00" x2="189.60" y2="413.50" stroke="#7a7a7a" stroke-width="1" />
<polygon points="189.60,393.30 188.00,388.30 191.20,388.30" fill="#333"/>
<polygon points="189.60,402.30 191.20,407.30 188.00,407.30" fill="#333"/>
<line x1="179.00" y1="393.30" x2="194.00" y2="393.30" stroke="#7a7a7a" stroke-width="1" />
<line x1="176.00" y1="402.30" x2="194.00" y2="402.30" stroke="#7a7a7a" stroke-width="1" />
<text x="0" y="0" font-size="12.5" font-style="italic" text-anchor="start" fill="#1e1e1e" transform="translate(184.50 373.50) rotate(-90) scale(0.750 1)" >25</text>
<path d="M204,368 Q221.5,363 239,368" fill="none" stroke="#777" stroke-width="1" />
<polygon points="216.20,365.90 210.40,367.91 210.09,365.32" fill="#333"/>
<polygon points="227.80,365.90 233.91,365.32 233.60,367.91" fill="#333"/>
<line x1="216.00" y1="364.00" x2="218.50" y2="396.00" stroke="#7a7a7a" stroke-width="1" />
<line x1="228.00" y1="364.00" x2="225.50" y2="396.00" stroke="#7a7a7a" stroke-width="1" />
<text x="216.00" y="359.50" font-size="12.5" font-style="italic" text-anchor="start" fill="#1e1e1e" textLength="13.00" lengthAdjust="spacingAndGlyphs" >10°</text>
<line x1="86.00" y1="361.80" x2="108.50" y2="361.80" stroke="#888" stroke-width="1.2" />
<line x1="108.50" y1="361.80" x2="126.50" y2="398.50" stroke="#555" stroke-width="0.9" />
<polygon points="126.50,398.50 123.00,394.09 125.16,393.03" fill="#333"/>
<line x1="108.50" y1="361.80" x2="129.50" y2="391.50" stroke="#555" stroke-width="0.9" />
<polygon points="129.50,391.50 125.34,387.70 127.30,386.32" fill="#333"/>
<line x1="108.50" y1="361.80" x2="132.50" y2="390.50" stroke="#555" stroke-width="0.9" />
<polygon points="132.50,390.50 128.05,387.05 129.89,385.51" fill="#333"/>
<text x="0" y="0" font-size="12.5" font-style="italic" text-anchor="start" fill="#1e1e1e" transform="translate(90.50 359.50) scale(0.720 1)" >R5</text>
<line x1="121.50" y1="351.00" x2="139.50" y2="378.50" stroke="#555" stroke-width="0.9" />
<polygon points="139.80,378.80 135.43,374.49 137.60,373.07" fill="#333"/>
<text x="129.50" y="351.50" font-size="12" font-style="italic" text-anchor="start" fill="#666" textLength="14.00" lengthAdjust="spacingAndGlyphs" transform="rotate(55 129.50 351.50)" >R47</text>
<text x="775.60" y="108.20" font-size="16.5" font-style="normal" text-anchor="middle" fill="#1e1e1e" textLength="7.00" lengthAdjust="spacingAndGlyphs" stroke="#fff" stroke-width="0.12" >A</text>
<line x1="622.00" y1="191.30" x2="722.00" y2="191.30" stroke="#7a7a7a" stroke-width="1" />
<line x1="622.00" y1="194.00" x2="636.00" y2="194.00" stroke="#7a7a7a" stroke-width="1" />
<line x1="636.40" y1="170.00" x2="636.40" y2="193.00" stroke="#7a7a7a" stroke-width="1" />
<line x1="656.30" y1="170.00" x2="656.30" y2="192.00" stroke="#7a7a7a" stroke-width="1" />
<line x1="666.40" y1="150.40" x2="666.40" y2="207.00" stroke="#7a7a7a" stroke-width="1" />
<line x1="688.50" y1="129.00" x2="688.50" y2="207.00" stroke="#7a7a7a" stroke-width="1" />
<line x1="710.40" y1="150.40" x2="710.40" y2="207.00" stroke="#7a7a7a" stroke-width="1" />
<line x1="721.90" y1="150.40" x2="721.90" y2="191.00" stroke="#7a7a7a" stroke-width="1" />
<line x1="785.40" y1="150.40" x2="785.40" y2="191.00" stroke="#7a7a7a" stroke-width="1" />
<line x1="791.80" y1="170.00" x2="791.80" y2="224.00" stroke="#7a7a7a" stroke-width="1" />
<line x1="811.90" y1="150.40" x2="811.90" y2="224.00" stroke="#7a7a7a" stroke-width="1" />
<line x1="818.30" y1="150.40" x2="818.30" y2="191.00" stroke="#7a7a7a" stroke-width="1" />
<line x1="882.20" y1="150.40" x2="882.20" y2="191.00" stroke="#7a7a7a" stroke-width="1" />
<line x1="893.50" y1="150.40" x2="893.50" y2="207.00" stroke="#7a7a7a" stroke-width="1" />
<line x1="915.30" y1="128.60" x2="915.30" y2="207.00" stroke="#7a7a7a" stroke-width="1" />
<line x1="881.00" y1="191.30" x2="940.00" y2="191.30" stroke="#7a7a7a" stroke-width="1" />
<line x1="923.00" y1="208.50" x2="940.00" y2="208.50" stroke="#7a7a7a" stroke-width="1" />
<path d="M636.00,193.00 L655.00,193.00 L666.50,207.80 L710.50,207.80 L722.50,192.30 L785.00,192.30 L791.80,196.30 L811.90,196.30 L819.30,192.30 L881.20,192.30 L893.00,208.20 L923.60,208.20" fill="none" stroke="#3434d2" stroke-width="3.6" stroke-linejoin="round"/>
<path d="M636.00,193.00 L655.00,193.00 L666.50,207.80 L710.50,207.80 L722.50,192.30 L785.00,192.30 L791.80,196.30 L811.90,196.30 L819.30,192.30 L881.20,192.30 L893.00,208.20 L923.60,208.20" fill="none" stroke="#ffffff" stroke-width="1.2" stroke-linejoin="round"/>
<line x1="688.50" y1="133.20" x2="915.30" y2="133.20" stroke="#666" stroke-width="1" />
<polygon points="688.50,133.20 694.50,131.60 694.50,134.80" fill="#333"/>
<polygon points="915.30,133.20 909.30,134.80 909.30,131.60" fill="#333"/>
<text x="791.40" y="127.50" font-size="12.5" font-style="italic" text-anchor="start" fill="#1e1e1e" textLength="20.50" lengthAdjust="spacingAndGlyphs" >143,8</text>
<line x1="666.40" y1="154.20" x2="710.40" y2="154.20" stroke="#666" stroke-width="1" />
<polygon points="666.40,154.20 672.40,152.60 672.40,155.80" fill="#333"/>
<polygon points="710.40,154.20 704.40,155.80 704.40,152.60" fill="#333"/>
<text x="0" y="0" font-size="12.5" font-style="italic" text-anchor="start" fill="#1e1e1e" transform="translate(682.20 149.70) scale(0.750 1)" >28</text>
<line x1="710.40" y1="154.20" x2="721.90" y2="154.20" stroke="#666" stroke-width="1" />
<text x="0" y="0" font-size="12.5" font-style="italic" text-anchor="start" fill="#1e1e1e" transform="translate(714.00 149.70) scale(0.750 1)" >7</text>
<line x1="721.90" y1="154.20" x2="785.40" y2="154.20" stroke="#666" stroke-width="1" />
<polygon points="721.90,154.20 727.90,152.60 727.90,155.80" fill="#333"/>
<polygon points="785.40,154.20 779.40,155.80 779.40,152.60" fill="#333"/>
<text x="0" y="0" font-size="12.5" font-style="italic" text-anchor="start" fill="#1e1e1e" textLength="25.14" lengthAdjust="spacing" transform="translate(743.60 149.70) scale(0.7 1)" >40,5</text>
<line x1="800.00" y1="154.20" x2="838.00" y2="154.20" stroke="#666" stroke-width="1" />
<polygon points="811.90,154.20 805.90,155.80 805.90,152.60" fill="#333"/>
<polygon points="818.30,154.20 824.30,152.60 824.30,155.80" fill="#333"/>
<text x="0" y="0" font-size="12.5" font-style="italic" text-anchor="start" fill="#1e1e1e" transform="translate(826.70 148.70) scale(0.647 1)" >4</text>
<line x1="862.00" y1="154.20" x2="905.00" y2="154.20" stroke="#666" stroke-width="1" />
<polygon points="882.20,154.20 876.20,155.80 876.20,152.60" fill="#333"/>
<polygon points="893.50,154.20 899.50,152.60 899.50,155.80" fill="#333"/>
<text x="0" y="0" font-size="12.5" font-style="italic" text-anchor="start" fill="#1e1e1e" transform="translate(868.00 148.70) scale(0.750 1)" >7</text>
<line x1="592.00" y1="174.40" x2="667.00" y2="174.40" stroke="#666" stroke-width="1" />
<polygon points="636.40,174.40 630.40,176.00 630.40,172.80" fill="#333"/>
<polygon points="656.30,174.40 662.30,172.80 662.30,176.00" fill="#333"/>
<text x="600.60" y="169.40" font-size="12.5" font-style="italic" text-anchor="start" fill="#1e1e1e" textLength="25.40" lengthAdjust="spacingAndGlyphs" >10 min</text>
<line x1="765.80" y1="174.50" x2="803.00" y2="174.50" stroke="#666" stroke-width="1" />
<polygon points="785.40,174.50 779.40,176.10 779.40,172.90" fill="#333"/>
<polygon points="791.80,174.50 797.80,172.90 797.80,176.10" fill="#333"/>
<text x="0" y="0" font-size="12.5" font-style="italic" text-anchor="start" fill="#1e1e1e" transform="translate(770.60 168.90) scale(0.633 1)" >4</text>
<line x1="818.30" y1="174.50" x2="882.20" y2="174.50" stroke="#666" stroke-width="1" />
<polygon points="818.30,174.50 824.30,172.90 824.30,176.10" fill="#333"/>
<polygon points="882.20,174.50 876.20,176.10 876.20,172.90" fill="#333"/>
<text x="840.50" y="168.90" font-size="12.5" font-style="italic" text-anchor="start" fill="#1e1e1e" textLength="17.00" lengthAdjust="spacingAndGlyphs" >40,5</text>
<line x1="780.50" y1="220.10" x2="823.50" y2="220.10" stroke="#666" stroke-width="1" />
<polygon points="791.80,220.10 785.80,221.70 785.80,218.50" fill="#333"/>
<polygon points="811.90,220.10 817.90,218.50 817.90,221.70" fill="#333"/>
<text x="0" y="0" font-size="12.5" font-style="italic" text-anchor="start" fill="#1e1e1e" transform="translate(797.00 214.40) scale(0.575 1)" >13</text>
<line x1="626.70" y1="179.00" x2="626.70" y2="217.00" stroke="#666" stroke-width="1" />
<polygon points="626.70,191.30 625.10,186.30 628.30,186.30" fill="#333"/>
<polygon points="626.70,194.00 628.30,199.00 625.10,199.00" fill="#333"/>
<text x="0" y="0" font-size="12.5" font-style="italic" text-anchor="start" fill="#1e1e1e" transform="translate(621.50 210.80) rotate(-70) scale(0.750 1)" >1</text>
<line x1="935.40" y1="152.00" x2="935.40" y2="220.80" stroke="#666" stroke-width="1" />
<polygon points="935.40,191.30 933.80,185.30 937.00,185.30" fill="#333"/>
<polygon points="935.40,208.50 937.00,214.50 933.80,214.50" fill="#333"/>
<text x="931.60" y="182.60" font-size="12.5" font-style="italic" text-anchor="start" fill="#1e1e1e" textLength="18.00" lengthAdjust="spacingAndGlyphs" transform="rotate(-90 931.60 182.60)" >10±1</text>
<line x1="901.50" y1="195.30" x2="901.50" y2="236.70" stroke="#666" stroke-width="1" />
<polygon points="901.50,207.20 899.90,202.20 903.10,202.20" fill="#333"/>
<polygon points="901.50,210.20 903.10,215.20 899.90,215.20" fill="#333"/>
<text x="0" y="0" font-size="12.5" font-style="italic" text-anchor="start" fill="#1e1e1e" transform="translate(895.00 228.20) rotate(-70) scale(0.750 1)" >1</text>
<line x1="881.20" y1="192.00" x2="860.60" y2="235.60" stroke="#777" stroke-width="1" />
<polygon points="881.20,192.00 879.81,197.98 877.46,196.87" fill="#333"/>
<text x="857.00" y="232.00" font-size="12.5" font-style="italic" text-anchor="start" fill="#666" textLength="34.00" lengthAdjust="spacingAndGlyphs" transform="rotate(-64 857.00 232.00)" >R3,5max</text>
<path d="M921.5,201 Q918.5,208.5 921.5,216" fill="none" stroke="#777" stroke-width="0.9" />
<text x="772.20" y="274.00" font-size="15" font-style="normal" text-anchor="middle" fill="#1e1e1e" textLength="8.00" lengthAdjust="spacingAndGlyphs" stroke="#fff" stroke-width="0.12" >Б</text>
<line x1="658.00" y1="310.70" x2="894.00" y2="310.70" stroke="#7a7a7a" stroke-width="1" />
<path d="M658.40,309.20 L680.00,309.20 L691.80,294.00 L754.70,294.00 L760.10,298.00 L783.00,298.00 L788.50,294.00 L850.60,294.00 L861.90,309.00 L894.30,309.00" fill="none" stroke="#3434d2" stroke-width="3.6" stroke-linejoin="round"/>
<path d="M658.40,309.20 L680.00,309.20 L691.80,294.00 L754.70,294.00 L760.10,298.00 L783.00,298.00 L788.50,294.00 L850.60,294.00 L861.90,309.00 L894.30,309.00" fill="none" stroke="#ffffff" stroke-width="1.2" stroke-linejoin="round"/>
<line x1="741.20" y1="298.60" x2="741.20" y2="336.40" stroke="#666" stroke-width="1" />
<polygon points="741.20,307.50 739.60,302.50 742.80,302.50" fill="#333"/>
<polygon points="741.20,311.50 742.80,316.50 739.60,316.50" fill="#333"/>
<text x="0" y="0" font-size="12.5" font-style="italic" text-anchor="start" fill="#1e1e1e" transform="translate(735.80 331.00) rotate(-70) scale(0.750 1)" >1</text>
<line x1="816.80" y1="331.00" x2="894.30" y2="331.00" stroke="#666" stroke-width="1" />
<polygon points="861.90,331.00 867.90,329.40 867.90,332.60" fill="#333"/>
<polygon points="894.30,331.00 888.30,332.60 888.30,329.40" fill="#333"/>
<line x1="861.90" y1="311.00" x2="861.90" y2="336.00" stroke="#7a7a7a" stroke-width="1" />
<line x1="894.30" y1="311.00" x2="894.30" y2="336.00" stroke="#7a7a7a" stroke-width="1" />
<text x="825.70" y="326.10" font-size="12.5" font-style="italic" text-anchor="start" fill="#1e1e1e" textLength="24.90" lengthAdjust="spacingAndGlyphs" >10 min</text>
<path d="M659.5,301 Q655.5,310 659.5,319" fill="none" stroke="#777" stroke-width="0.9" />
</svg>
</body></html>
